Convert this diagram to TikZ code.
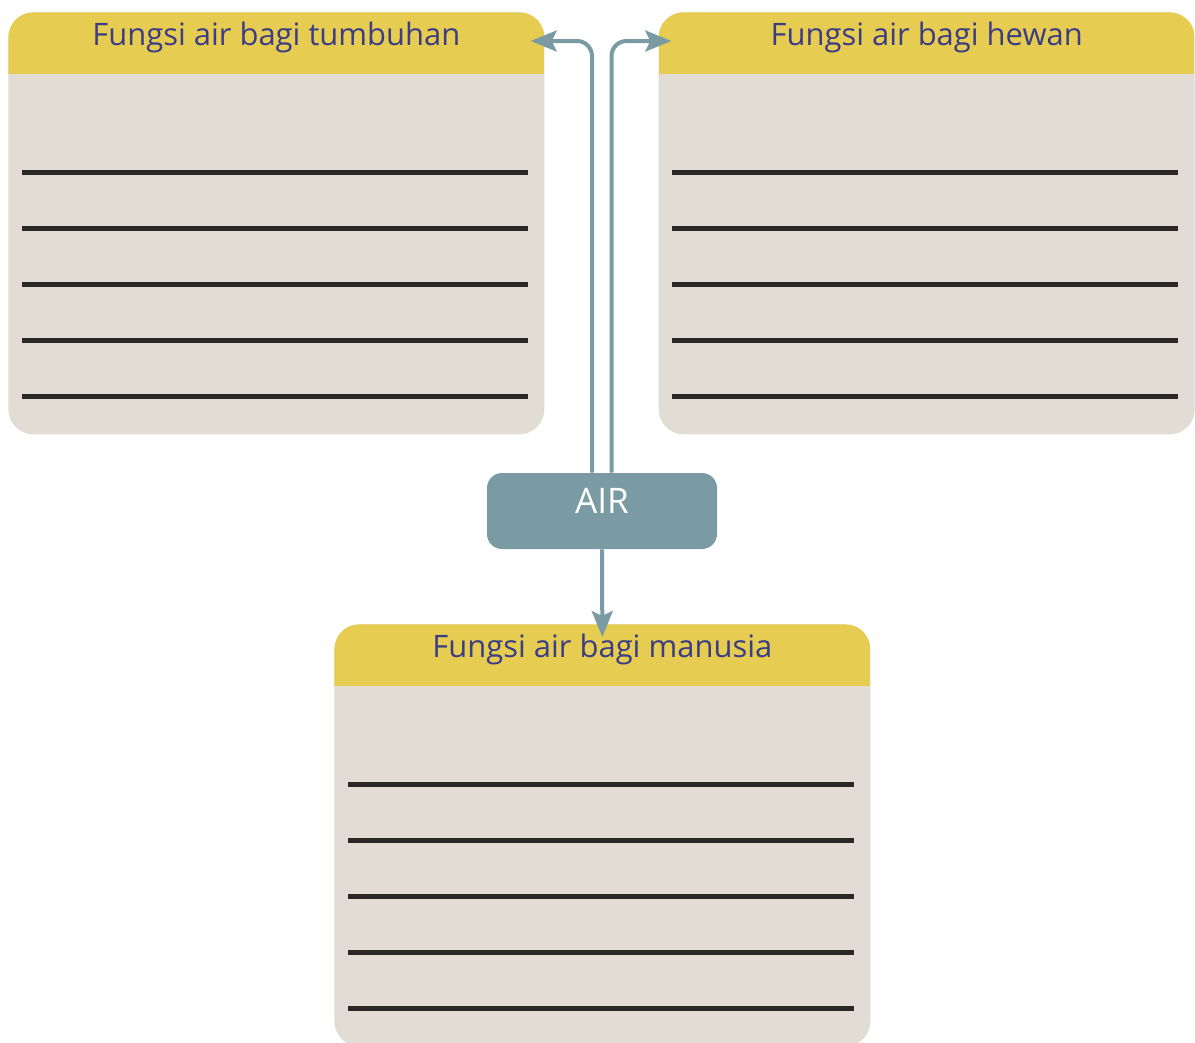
\documentclass[tikz,border=0pt]{standalone}
\usepackage{fontspec}
\setmainfont{Open Sans}
\usetikzlibrary{positioning,arrows.meta}
\definecolor{kuning}{HTML}{E6CC50}
\definecolor{krem}{HTML}{E2DDD4}
\definecolor{abu}{HTML}{7A9AA4}
\definecolor{ungu}{HTML}{3B3D85}
\definecolor{garis}{HTML}{2B2828}

\begin{document}
\begin{tikzpicture}[>={Stealth[length=0.52cm,width=0.42cm,inset=0.1cm]}]
\tikzstyle{kotak}=[rectangle, rounded corners=0.5cm, fill=krem, minimum width=10.72cm, minimum height=8.44cm, inner sep=0pt,
  path picture={\fill[kuning, sharp corners] (path picture bounding box.north west) rectangle ([yshift=-1.24cm]path picture bounding box.north east);}]
\tikzstyle{judul}=[text=ungu, font=\fontsize{17.6}{20}\selectfont, inner sep=0pt, anchor=base]
\tikzstyle{isian}=[line width=0.1cm, garis]
\tikzstyle{panah}=[line width=0.08cm, abu, rounded corners=0.3cm, ->]
\useasboundingbox (0,0) rectangle (23.9,-20.84);
% tiga kotak isian
\node[kotak, anchor=north west] (tumbuhan) at (0.16,-0.24) {};
\node[kotak, anchor=north east] (hewan) at (23.9,-0.24) {};
\node[kotak, anchor=north west] (manusia) at (6.68,-12.48) {};
\node[judul] (tumbuhanjudul) at ([yshift=-0.66cm]tumbuhan.north) {Fungsi air bagi tumbuhan};
\node[judul] (hewanjudul) at ([yshift=-0.66cm]hewan.north) {Fungsi air bagi hewan};
\node[judul] (manusiajudul) at ([yshift=-0.66cm]manusia.north) {Fungsi air bagi manusia};
\foreach \b in {tumbuhan,hewan,manusia}
  \foreach \k in {0,...,4}
    \draw[isian] ([xshift=0.28cm,yshift={-3.2cm-\k*1.12cm}]\b.north west) -- ++(10.12,0);
% pusat
\node[rectangle, rounded corners=0.3cm, fill=abu, minimum width=4.6cm, minimum height=1.52cm,
  text=white, font=\fontsize{20}{24}\selectfont, text depth=0.4cm] (air) at (12.04,-10.22) {AIR};
\draw[panah] ([xshift=-0.2cm]air.north) |- ([xshift=-0.28cm,yshift=-0.58cm]tumbuhan.north east);
\draw[panah] ([xshift=0.19cm]air.north) |- ([xshift=0.26cm,yshift=-0.58cm]hewan.north west);
\draw[panah] (air.south) -- ([yshift=-0.26cm]manusia.north);
\end{tikzpicture}
\end{document}
